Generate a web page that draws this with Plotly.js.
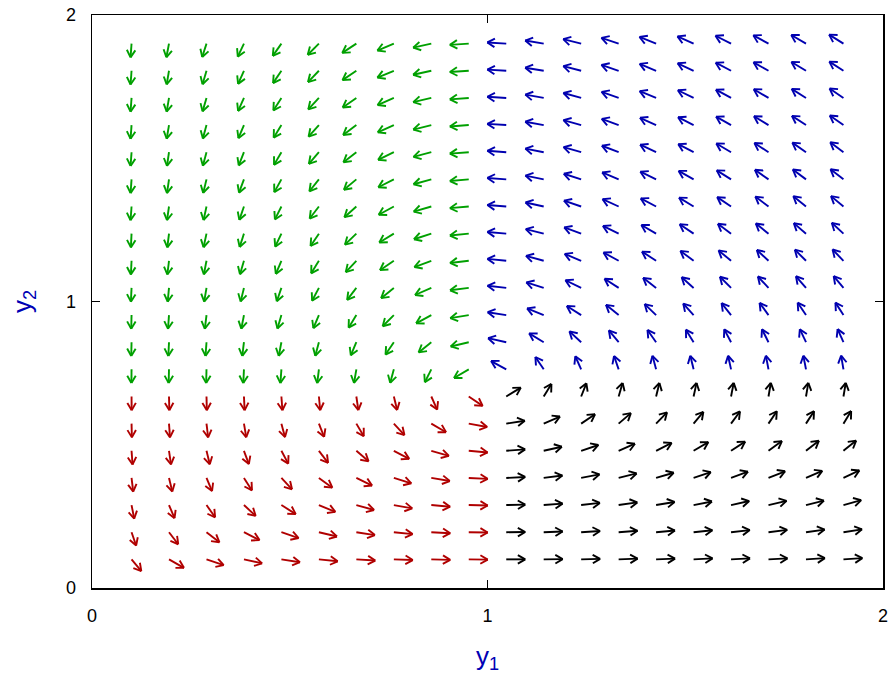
<!DOCTYPE html>
<html><head><meta charset="utf-8">
<script src="https://cdn.plot.ly/plotly-3.0.1.min.js"></script>
<style>html,body{margin:0;padding:0;background:#fff}#chart{width:890px;height:677px}</style>
</head><body><div id="chart"></div>
<script>
// Grid of arrow tails (y1 across, y2 up)
const y1Values = [0.1000,0.1947,0.2895,0.3842,0.4789,0.5737,0.6684,0.7632,0.8579,0.9526,1.0474,1.1421,1.2368,1.3316,1.4263,1.5211,1.6158,1.7105,1.8053,1.9000];
const y2Values = [0.1000,0.1947,0.2895,0.3842,0.4789,0.5737,0.6684,0.7632,0.8579,0.9526,1.0474,1.1421,1.2368,1.3316,1.4263,1.5211,1.6158,1.7105,1.8053,1.9000];
// Arrow direction (degrees, in data units), one row per y2 value (bottom to top), one entry per y1 value
const arrowAngleDeg = [
  [-59,-38,-25,-17,-12,-8,-5,-3,-2,-1,0,1,2,3,3,4,4,4,5,5],
  [-76,-61,-47,-35,-25,-18,-12,-8,-4,-1,1,3,5,6,7,8,9,10,11,12],
  [-82,-73,-63,-52,-41,-30,-21,-14,-7,-2,2,6,9,11,13,15,17,18,19,21],
  [-85,-80,-73,-65,-56,-45,-34,-23,-13,-4,4,10,15,19,22,25,27,29,31,33],
  [-87,-84,-80,-75,-69,-61,-50,-36,-22,-7,6,17,25,31,35,39,42,45,47,48],
  [-89,-87,-85,-83,-79,-74,-67,-56,-39,-14,12,31,43,50,55,59,62,64,65,66],
  [-89.7,-89,-89,-88,-87,-86,-84,-80,-72,-43,40,66,74,78,80,81,82,83,83,83],
  [-90.4,-91,-91,-92,-93,-95,-97,-101,-110,-141,143,116,108,104,101,100,99,98,98,97],
  [-91,-92,-93,-95,-98,-101,-107,-116,-132,-162,163,140,128,121,117,114,111,110,109,108],
  [-91,-93,-95,-98,-102,-107,-114,-126,-143,-167,168,151,139,132,127,123,120,118,116,115],
  [-92,-94,-97,-100,-104,-111,-119,-132,-149,-170,171,156,146,138,133,129,126,124,122,121],
  [-92,-95,-98,-102,-107,-114,-124,-137,-153,-171,172,159,150,143,138,134,131,128,126,125],
  [-92,-95,-99,-103,-109,-116,-127,-140,-156,-172,173,161,153,146,141,137,134,132,130,128],
  [-93,-96,-99,-104,-110,-119,-129,-143,-158,-173,174,163,155,148,144,140,137,134,132,131],
  [-93,-96,-100,-105,-112,-120,-131,-145,-159,-173,174,164,156,150,146,142,139,136,134,133],
  [-93,-96,-101,-106,-113,-122,-133,-146,-160,-174,174,165,158,152,147,144,141,138,136,134],
  [-93,-97,-101,-107,-114,-123,-134,-148,-161,-174,175,166,159,153,148,145,142,140,138,136],
  [-93,-97,-102,-108,-115,-124,-136,-149,-162,-174,175,166,159,154,150,146,143,141,139,137],
  [-93,-97,-102,-108,-116,-125,-137,-150,-163,-175,175,167,160,155,150,147,144,142,140,138],
  [-93,-98,-103,-109,-117,-126,-138,-150,-163,-175,175,167,161,155,151,148,145,143,141,139]
];
const tickValues = [0, 1, 2];
const tickLabels = ['0', '1', '2'];

const FONT = 'Liberation Sans, Arial, Helvetica, sans-serif';
const ARROW_LEN = 0.048;            // data units
const SX = 395.5, SY = 286.5;       // px per data unit (plot area 791 x 573)
const HEAD = 8.5, PHI = 30*Math.PI/180;
const groups = {
  red:   {x:[], y:[], c:'#b00000'},
  green: {x:[], y:[], c:'#00a000'},
  blue:  {x:[], y:[], c:'#0000b0'},
  black: {x:[], y:[], c:'#000000'}
};
y2Values.forEach((yv, i) => {
  y1Values.forEach((xv, j) => {
    const deg = arrowAngleDeg[i][j];
    const th = deg*Math.PI/180;
    const key = deg > 90 ? 'blue' : deg >= 0 ? 'black' : deg >= -90 ? 'red' : 'green';
    const g = groups[key];
    const tx = xv + ARROW_LEN*Math.cos(th), ty = yv + ARROW_LEN*Math.sin(th);
    const px = Math.cos(th)*SX, py = Math.sin(th)*SY, n = Math.hypot(px, py);
    const ex = px/n, ey = py/n;
    g.x.push(xv, tx, null); g.y.push(yv, ty, null);
    for (const s of [1, -1]) {
      const c = Math.cos(s*PHI), sn = Math.sin(s*PHI);
      const rx = ex*c - ey*sn, ry = ex*sn + ey*c;
      g.x.push(tx, tx - HEAD*rx/SX, null); g.y.push(ty, ty - HEAD*ry/SY, null);
    }
  });
});
const traces = Object.values(groups).map(g => ({
  type:'scatter', mode:'lines', x:g.x, y:g.y,
  line:{color:g.c, width:1.9}, hoverinfo:'skip', showlegend:false
}));
const axisCommon = {
  range:[0,2], tickmode:'array', tickvals:tickValues, ticktext:tickLabels,
  ticks:'inside', ticklen:8, tickwidth:1.5, tickcolor:'#000',
  showline:true, linecolor:'#000', linewidth:1.5, mirror:'ticks',
  showgrid:false, zeroline:false, fixedrange:true,
  tickfont:{family:FONT, size:18, color:'#000'}, ticklabelstandoff:11
};
const layout = {
  width:890, height:677, margin:{l:92, r:7, t:15, b:89},
  paper_bgcolor:'#fff', plot_bgcolor:'#fff',
  xaxis:Object.assign({}, axisCommon, {title:{text:'y<sub>1</sub>', font:{family:FONT, size:26, color:'#0000b4'}, standoff:21}}),
  yaxis:Object.assign({}, axisCommon, {title:{text:'y<sub>2</sub>', font:{family:FONT, size:26, color:'#0000b4'}, standoff:27}})
};
Plotly.newPlot('chart', traces, layout, {displayModeBar:false, staticPlot:true});
</script></body></html>
